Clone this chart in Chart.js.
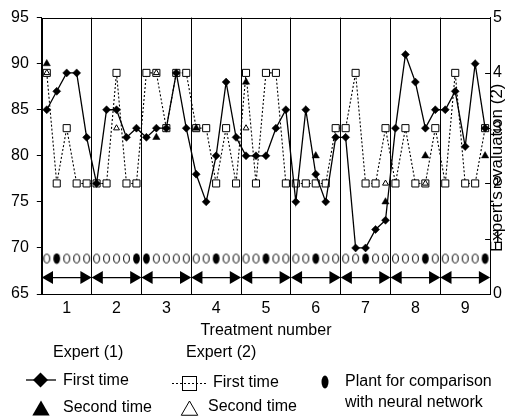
<!DOCTYPE html>
<html><head><meta charset="utf-8">
<script src="https://cdn.jsdelivr.net/npm/chart.js@4/dist/chart.umd.min.js"></script>
<style>html,body{margin:0;padding:0;background:#fff}#wrap{width:508px;height:416px;position:relative}</style>
</head><body><div id="wrap"><canvas id="c" width="508" height="416"></canvas></div>
<script>
// ---- data ----
const treatments = [1, 2, 3, 4, 5, 6, 7, 8, 9];
const leftTicks = [65, 70, 75, 80, 85, 90, 95];
const rightTicks = [0, 1, 2, 3, 4, 5];
// Expert (1), first time (left axis), 5 plants per treatment
const expert1First = [85, 87, 89, 89, 82,  77, 85, 85, 82, 83,  82, 83, 83, 89, 83,
                      78, 75, 80, 88, 82,  80, 80, 80, 83, 85,  75, 85, 78, 75, 82,
                      82, 70, 70, 72, 73,  83, 91, 88, 83, 85,  85, 87, 81, 90, 83];
// Expert (1), second time (left axis), only where drawn
const expert1Second = [90, null, null, null, null,  null, null, null, null, null,  null, 82, null, null, null,
                       83, null, null, null, null,  88, null, null, null, null,  null, null, 80, null, null,
                       null, null, null, null, 75,  null, null, null, 80, null,  null, null, null, null, 80];
// Expert (2), first time (right axis)
const expert2First = [4, 2, 3, 2, 2,  2, 2, 4, 2, 2,  4, 4, 3, 4, 4,
                      3, 3, 2, 3, 2,  4, 2, 4, 4, 2,  2, 2, 2, 2, 3,
                      3, 4, 2, 2, 3,  2, 3, 2, 2, 3,  2, 4, 2, 2, 3];
// Expert (2), second time (right axis)
const expert2Second = [4, null, null, null, null,  null, null, 3, null, null,  null, 4, null, null, null,
                       null, null, null, null, null,  3, null, null, null, null,  null, null, null, null, null,
                       null, null, null, null, 2,  null, null, null, 2, null,  null, null, null, null, null];
// Plant (1..5) used for comparison with neural network, per treatment
const comparisonPlant = [2, 5, 1, 3, 3, 3, 3, 4, 5];

// ---- layout constants (not data) ----
const PER = 5;
const plantRowLevel = 68.85;
const arrowRowLevel = 66.78;
const FONT = '"Liberation Sans", Arial, sans-serif';

const xOf = (i) => { const g = treatments[Math.floor(i / PER)]; const j = i % PER; return g - 0.4 + 0.2 * j; };
const toPts = (arr) => arr.map((v, i) => v === null ? null : { x: xOf(i), y: v }).filter(p => p);

function ellipseCanvas(filled) {
  const c = document.createElement('canvas');
  c.width = 9; c.height = 12;
  const x = c.getContext('2d');
  x.beginPath();
  x.ellipse(4.5, 6, filled ? 3.4 : 2.9, filled ? 5.2 : 4.4, 0, 0, Math.PI * 2);
  if (filled) { x.fillStyle = '#000'; x.fill(); }
  else { x.fillStyle = '#fff'; x.fill(); x.lineWidth = 1; x.strokeStyle = '#000'; x.stroke(); }
  return c;
}
const openEll = ellipseCanvas(false), fullEll = ellipseCanvas(true);

const plantPts = expert1First.map((_, i) => ({ x: xOf(i), y: plantRowLevel }));
const plantStyles = expert1First.map((_, i) => (i % PER) + 1 === comparisonPlant[Math.floor(i / PER)] ? fullEll : openEll);

const arrowOff = 0.15;
const arrowPts = [], arrowRot = [];
treatments.forEach(g => {
  arrowPts.push({ x: g - 0.5 + arrowOff, y: arrowRowLevel }); arrowRot.push(270);
  arrowPts.push({ x: g + 0.5 - arrowOff, y: arrowRowLevel }); arrowRot.push(90);
  arrowPts.push({ x: g + 0.5, y: null }); arrowRot.push(0);
});

const framePlugin = {
  id: 'frame',
  afterDraw(chart) {
    const { ctx, chartArea: a, scales } = chart;
    ctx.save();
    ctx.strokeStyle = '#000'; ctx.lineWidth = 1;
    ctx.strokeRect(Math.round(a.left) + 0.5, Math.round(a.top) + 0.5, Math.round(a.right - a.left), Math.round(a.bottom - a.top));
    // inward ticks on right axis
    const y2 = scales.y2;
    rightTicks.forEach(v => {
      const py = Math.round(y2.getPixelForValue(v)) + 0.5;
      ctx.beginPath(); ctx.moveTo(a.right - 5, py); ctx.lineTo(a.right, py); ctx.stroke();
    });
    // right axis title (drawn over tick labels as in the original)
    ctx.fillStyle = '#000';
    ctx.font = '17px ' + FONT;
    ctx.translate(a.right + 7, (a.top + a.bottom) / 2 + 12);
    ctx.rotate(-Math.PI / 2);
    ctx.textAlign = 'center'; ctx.textBaseline = 'middle';
    ctx.fillText("Expert's evaluation (2)", 0, 0);
    ctx.restore();

    // ---- legend ----
    const H = Chart.helpers;
    ctx.save();
    ctx.fillStyle = '#000'; ctx.strokeStyle = '#000';
    ctx.font = '16px ' + FONT; ctx.textAlign = 'left'; ctx.textBaseline = 'middle';
    ctx.fillText('Expert (1)', 53, 353);
    ctx.fillText('Expert (2)', 186, 353);
    ctx.fillText('First time', 63, 381);
    ctx.fillText('Second time', 63, 408);
    ctx.fillText('First time', 213, 383);
    ctx.fillText('Second time', 208, 407);
    ctx.fillText('Plant for comparison', 345, 382);
    ctx.fillText('with neural network', 345, 403);
    // Expert (1) first time symbol
    ctx.lineWidth = 1.3;
    ctx.beginPath(); ctx.moveTo(26, 380); ctx.lineTo(56, 380); ctx.stroke();
    H.drawPoint(ctx, { pointStyle: 'rectRot', radius: 7.5, borderWidth: 0 }, 40.5, 380);
    // Expert (1) second time
    H.drawPoint(ctx, { pointStyle: 'triangle', radius: 10, borderWidth: 0 }, 41, 410.5);
    // Expert (2) first time
    ctx.lineWidth = 1; ctx.setLineDash([2, 2]);
    ctx.beginPath(); ctx.moveTo(172, 383.5); ctx.lineTo(208, 383.5); ctx.stroke();
    ctx.setLineDash([]);
    ctx.strokeRect(182.5, 376.5, 14, 14);
    // Expert (2) second time
    ctx.fillStyle = '#fff';
    ctx.lineWidth = 1;
    H.drawPoint(ctx, { pointStyle: 'triangle', radius: 9.5, borderWidth: 1 }, 189.5, 410.5);
    // plant symbol
    ctx.fillStyle = '#000';
    ctx.beginPath(); ctx.ellipse(325, 382, 3.5, 6.5, 0, 0, Math.PI * 2); ctx.fill();
    ctx.restore();
  }
};

new Chart(document.getElementById('c'), {
  type: 'line',
  data: {
    datasets: [
      { label: 'Expert (1) First time', data: toPts(expert1First), yAxisID: 'y', order: 1,
        borderColor: '#000', borderWidth: 1.3, backgroundColor: '#000', pointStyle: 'rectRot',
        pointRadius: 4, pointBackgroundColor: '#000', pointBorderColor: '#000', pointBorderWidth: 0.5, tension: 0 },
      { label: 'Expert (1) Second time', data: toPts(expert1Second), yAxisID: 'y', order: 2, showLine: false,
        pointStyle: 'triangle', pointRadius: 4.2, pointBackgroundColor: '#000', pointBorderColor: '#000', pointBorderWidth: 0.5 },
      { label: 'Expert (2) Second time', data: toPts(expert2Second), yAxisID: 'y2', order: 3, showLine: false,
        pointStyle: 'triangle', pointRadius: 3.4, pointBackgroundColor: '#fff', pointBorderColor: '#000', pointBorderWidth: 1 },
      { label: 'Expert (2) First time', data: toPts(expert2First), yAxisID: 'y2', order: 4,
        borderColor: '#000', borderWidth: 1.1, borderDash: [2, 2], pointStyle: 'rect',
        pointRadius: 5, pointBackgroundColor: '#fff', pointBorderColor: '#000', pointBorderWidth: 1, tension: 0 },
      { label: 'Plant for comparison', data: plantPts, yAxisID: 'y', order: 5, showLine: false,
        pointStyle: plantStyles, pointRadius: 5 },
      { label: 'Treatment span', data: arrowPts, yAxisID: 'y', order: 6, spanGaps: false,
        borderColor: '#000', borderWidth: 1.2, pointStyle: 'triangle', pointRadius: 7.5,
        pointRotation: arrowRot, pointBackgroundColor: '#000', pointBorderColor: '#000', pointBorderWidth: 0 }
    ]
  },
  options: {
    responsive: false, animation: false, events: [],
    layout: { padding: { left: 3, right: 3, top: 15, bottom: 72 } },
    plugins: { legend: { display: false }, tooltip: { enabled: false } },
    scales: {
      x: {
        type: 'linear', min: 0.5, max: 9.5,
        afterBuildTicks: (s) => { s.ticks = treatments.map(v => ({ value: v })); },
        afterFit: (s) => { s.height = 50; },
        grid: { offset: true, color: '#000', lineWidth: 1, drawTicks: false },
        border: { color: '#000', width: 1 },
        ticks: { color: '#000', font: { size: 16, family: FONT }, padding: 5, maxRotation: 0 },
        title: { display: true, text: 'Treatment number', color: '#000', font: { size: 16, family: FONT }, padding: { top: 0, bottom: 4 } }
      },
      y: {
        position: 'left', min: 65, max: 95,
        afterBuildTicks: (s) => { s.ticks = leftTicks.map(v => ({ value: v })); },
        grid: { drawOnChartArea: false, color: '#000', tickLength: 5 },
        border: { color: '#000', width: 1 },
        ticks: { color: '#000', font: { size: 16, family: FONT }, padding: 8 }
      },
      y2: {
        position: 'right', min: 0, max: 5,
        afterBuildTicks: (s) => { s.ticks = rightTicks.map(v => ({ value: v })); },
        grid: { drawOnChartArea: false, drawTicks: false, color: '#000' },
        border: { color: '#000', width: 1 },
        ticks: { color: '#000', font: { size: 16, family: FONT }, padding: 3 }
      }
    }
  },
  plugins: [framePlugin]
});
</script></body></html>
